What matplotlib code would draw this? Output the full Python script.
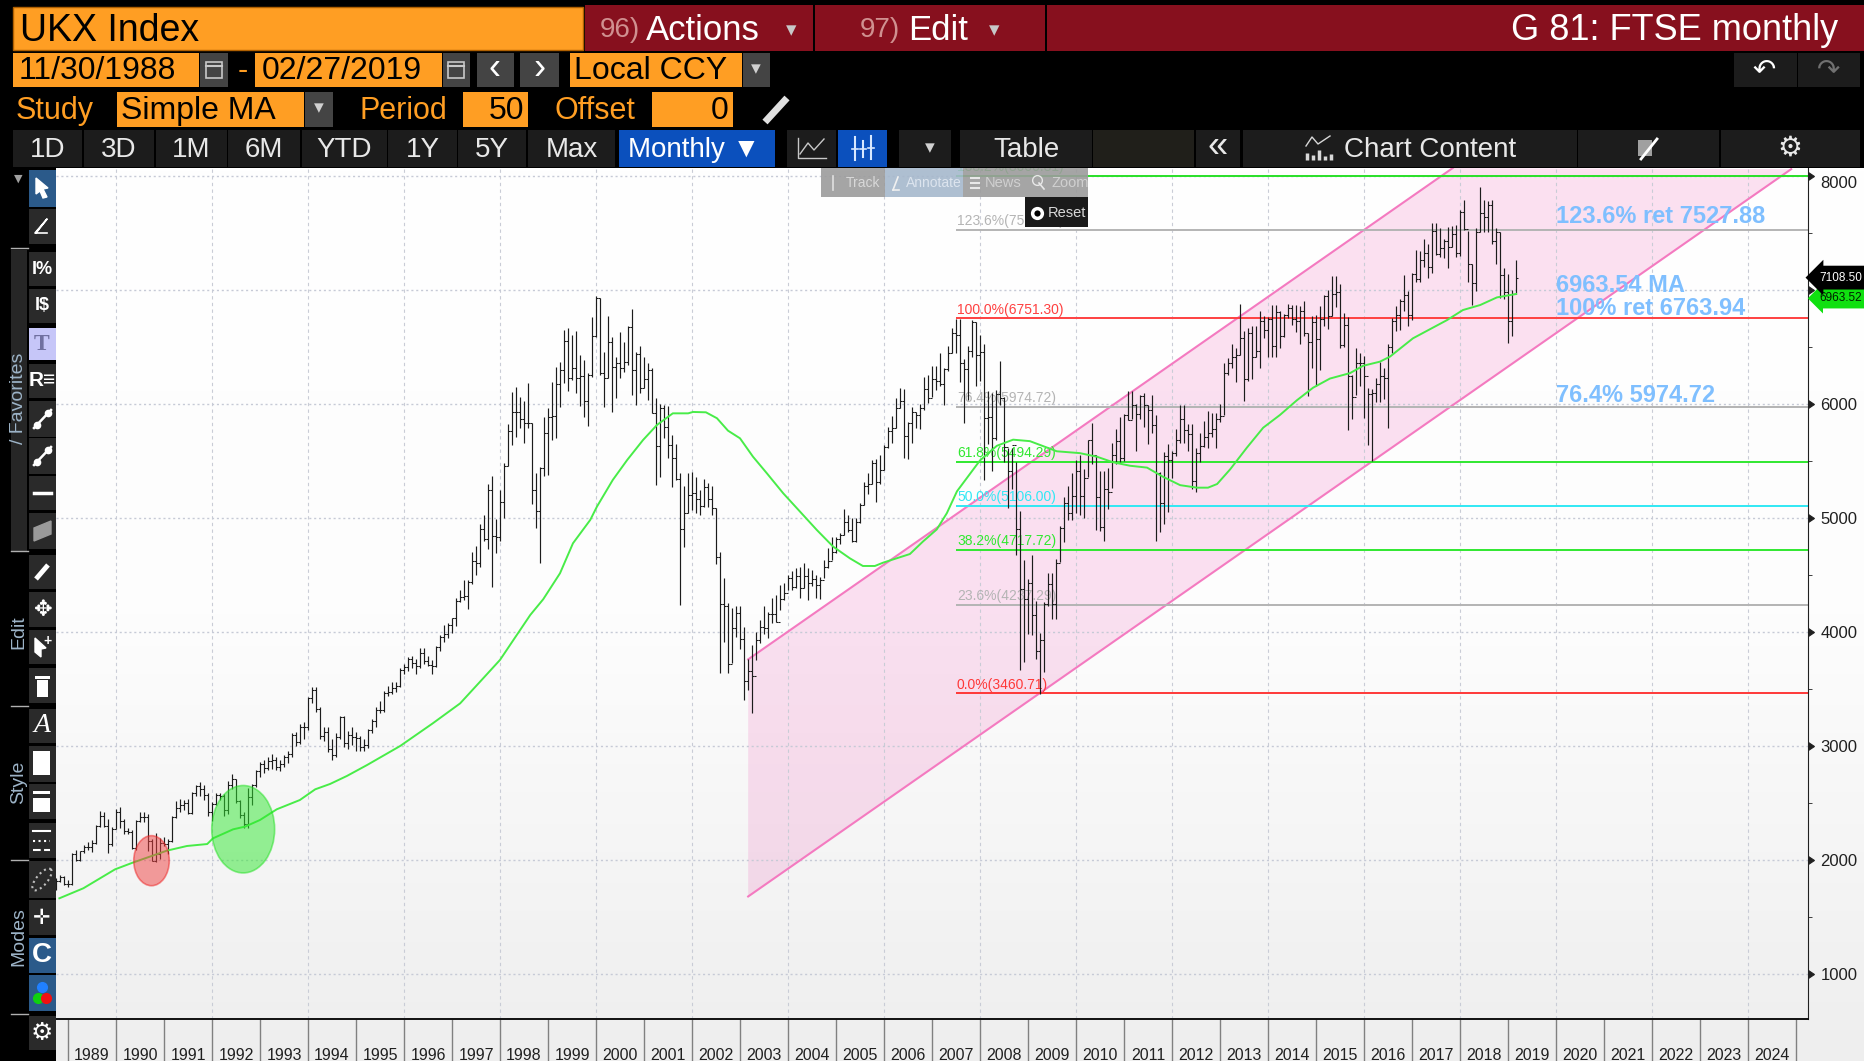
import numpy as np
import matplotlib
matplotlib.use('Agg')
import matplotlib.pyplot as plt
from matplotlib.colors import LinearSegmentedColormap
from matplotlib.markers import CARETRIGHTBASE
from matplotlib.patches import Rectangle, Ellipse, Polygon

plt.rcParams['font.family'] = ['Liberation Sans', 'DejaVu Sans']

# monthly bars, first bar Sep 1988, last bar Feb 2019
first_open = 1790
closes = [
    1820, 1853, 1793, 1793,
    2052, 2002, 2075, 2118, 2114, 2151, 2297, 2388, 2300, 2142, 2276, 2422,
    2338, 2255, 2247, 2103, 2345, 2375, 2375, 2163, 1990, 2050, 2149, 2143,
    2170, 2380, 2457, 2486, 2499, 2414, 2588, 2645, 2622, 2566, 2420, 2493,
    2571, 2562, 2440, 2654, 2708, 2521, 2399, 2312, 2553, 2658, 2778, 2846,
    2807, 2868, 2878, 2813, 2840, 2900, 2926, 3100, 3038, 3171, 3166, 3418,
    3491, 3328, 3086, 3126, 2971, 2919, 3082, 3251, 3027, 3097, 3081, 3066,
    2991, 3009, 3137, 3216, 3319, 3315, 3463, 3477, 3508, 3529, 3664, 3689,
    3760, 3728, 3699, 3818, 3748, 3711, 3703, 3867, 3953, 3980, 4058, 4119,
    4275, 4309, 4313, 4436, 4621, 4604, 4907, 4817, 5244, 4842, 4831, 5136,
    5458, 5767, 5932, 5928, 5870, 5833, 5837, 5249, 5064, 5438, 5743, 5883,
    5896, 6175, 6295, 6552, 6226, 6319, 6231, 6246, 6030, 6255, 6598, 6930,
    6269, 6232, 6540, 6327, 6359, 6313, 6365, 6672, 6294, 6438, 6142, 6222,
    6297, 5918, 5634, 5967, 5796, 5642, 5529, 5345, 4903, 5040, 5204, 5217,
    5165, 5101, 5272, 5166, 5086, 4656, 4246, 4227, 3722, 4039, 4169, 3940,
    3567, 3656, 3613, 3926, 4048, 4031, 4157, 4161, 4091, 4288, 4343, 4477,
    4391, 4492, 4386, 4489, 4431, 4464, 4413, 4459, 4571, 4624, 4703, 4814,
    4852, 4968, 4894, 4801, 4964, 5113, 5282, 5297, 5478, 5317, 5423, 5619,
    5760, 5792, 5965, 6023, 5723, 5833, 5928, 5906, 5961, 6129, 6049, 6221,
    6203, 6172, 6308, 6449, 6621, 6607, 6360, 6303, 6467, 6721, 6432, 6457,
    5880, 5884, 5702, 6087, 6053, 5625, 5412, 5636, 4902, 4377, 4288, 4434,
    4149, 3830, 3926, 4244, 4418, 4249, 4608, 4908, 5134, 5045, 5191, 5413,
    5189, 5355, 5680, 5553, 5188, 4917, 5258, 5225, 5549, 5675, 5528, 5900,
    5863, 5994, 5909, 6070, 5990, 5946, 5815, 5395, 5128, 5544, 5505, 5572,
    5682, 5872, 5768, 5738, 5321, 5571, 5635, 5711, 5742, 5783, 5867, 5898,
    6276, 6361, 6412, 6430, 6583, 6215, 6621, 6413, 6462, 6731, 6651, 6749,
    6510, 6810, 6598, 6780, 6844, 6744, 6730, 6820, 6622, 6546, 6723, 6566,
    6749, 6946, 6773, 6961, 6984, 6521, 6696, 6247, 6062, 6361, 6356, 6242,
    6084, 6097, 6175, 6242, 6231, 6504, 6724, 6781, 6899, 6954, 6784, 7143,
    7099, 7263, 7323, 7204, 7520, 7313, 7372, 7431, 7373, 7493, 7327, 7688,
    7534, 7232, 7057, 7509, 7678, 7637, 7749, 7432, 7510, 7128, 6980, 6728,
    6969, 7108,
]
highs = [
    1839, 1869, 1860, 1825,
    2060, 2085, 2080, 2135, 2155, 2175, 2310, 2430, 2425, 2360, 2290, 2450,
    2465, 2360, 2285, 2265, 2355, 2420, 2425, 2400, 2180, 2240, 2190, 2200,
    2180, 2390, 2515, 2535, 2530, 2535, 2600, 2660, 2680, 2660, 2590, 2510,
    2590, 2590, 2580, 2690, 2750, 2710, 2530, 2420, 2630, 2670, 2790, 2860,
    2880, 2900, 2930, 2900, 2880, 2925, 2960, 3110, 3120, 3190, 3210, 3430,
    3520, 3520, 3340, 3170, 3170, 3060, 3110, 3260, 3260, 3130, 3170, 3120,
    3090, 3060, 3145, 3235, 3340, 3395, 3480, 3530, 3560, 3565, 3680, 3715,
    3780, 3790, 3760, 3860, 3860, 3790, 3750, 3880, 3970, 4060, 4080, 4120,
    4300, 4370, 4460, 4460, 4700, 4750, 4950, 5030, 5300, 5368, 4988, 5246,
    5480, 5825, 6108, 6146, 6064, 6029, 6180, 5836, 5398, 5450, 5883, 5962,
    6196, 6322, 6372, 6650, 6664, 6605, 6644, 6430, 6386, 6270, 6760, 6950,
    6930, 6460, 6770, 6585, 6415, 6635, 6547, 6680, 6830, 6460, 6509, 6415,
    6357, 6313, 6050, 5999, 5991, 5983, 5728, 5650, 5398, 5281, 5398, 5407,
    5363, 5246, 5340, 5310, 5281, 5091, 4705, 4477, 4252, 4208, 4228, 4228,
    4047, 3760, 3886, 4003, 4105, 4228, 4179, 4296, 4325, 4412, 4427, 4500,
    4535, 4559, 4573, 4608, 4560, 4540, 4500, 4485, 4630, 4734, 4830, 4830,
    4865, 5076, 5026, 4997, 4997, 5129, 5319, 5392, 5509, 5515, 5553, 5640,
    5801, 5895, 6050, 6138, 6129, 5845, 5977, 5933, 5999, 6240, 6255, 6334,
    6334, 6446, 6319, 6510, 6670, 6743, 6743, 6398, 6510, 6733, 6717, 6606,
    6526, 6112, 6096, 6127, 6377, 6063, 5617, 5617, 5490, 5059, 4628, 4468,
    4676, 4276, 3990, 4262, 4516, 4516, 4644, 4931, 5186, 5281, 5393, 5505,
    5553, 5430, 5681, 5834, 5553, 5410, 5410, 5440, 5660, 5777, 5888, 5910,
    6110, 6110, 6000, 6080, 6100, 5990, 6075, 5905, 5400, 5580, 5650, 5590,
    5780, 5990, 5990, 5825, 5825, 5617, 5745, 5850, 5936, 5920, 5920, 6000,
    6357, 6400, 6526, 6494, 6875, 6640, 6670, 6685, 6685, 6813, 6770, 6760,
    6865, 6870, 6820, 6790, 6880, 6870, 6865, 6860, 6905, 6625, 6770, 6780,
    6860, 6960, 7000, 7120, 7122, 7050, 6800, 6760, 6250, 6490, 6450, 6420,
    6140, 6130, 6230, 6370, 6320, 6530, 6750, 6860, 6920, 7130, 6990, 7150,
    7355, 7340, 7450, 7403, 7584, 7584, 7540, 7450, 7555, 7560, 7570, 7700,
    7790, 7520, 7228, 7540, 7903, 7790, 7780, 7790, 7540, 7510, 7190, 7140,
    7000, 7263,
]
lows = [
    1737, 1810, 1780, 1760,
    1782, 1990, 1990, 2065, 2085, 2070, 2140, 2290, 2290, 2060, 2120, 2270,
    2280, 2230, 2225, 2100, 2090, 2330, 2330, 2080, 1990, 1980, 2010, 2120,
    2050, 2160, 2370, 2420, 2440, 2400, 2400, 2560, 2560, 2530, 2390, 2340,
    2480, 2530, 2385, 2400, 2620, 2500, 2370, 2281, 2280, 2480, 2640, 2730,
    2760, 2790, 2800, 2790, 2780, 2820, 2850, 2900, 3000, 3020, 3060, 3140,
    3380, 3300, 3060, 3040, 2950, 2876, 2900, 3060, 2990, 2970, 3010, 2960,
    2955, 2960, 2980, 3110, 3170, 3290, 3300, 3440, 3455, 3470, 3520, 3630,
    3660, 3680, 3630, 3680, 3720, 3700, 3630, 3690, 3830, 3910, 3950, 3990,
    4050, 4260, 4280, 4200, 4420, 4500, 4570, 4800, 4730, 4395, 4690, 4800,
    4997, 5456, 5640, 5714, 5787, 5655, 5787, 5123, 4910, 4608, 5369, 5377,
    5684, 5699, 5977, 6180, 6117, 6211, 6100, 5983, 5883, 5807, 6240, 6590,
    6255, 5977, 6225, 5927, 6050, 6225, 6284, 6340, 6080, 5990, 6094, 6138,
    6035, 5918, 5290, 5363, 5700, 5524, 5275, 5330, 4237, 4749, 5041, 5070,
    5040, 5027, 5100, 5100, 5027, 4600, 3638, 3915, 3640, 3725, 3960, 3850,
    3404, 3490, 3287, 3755, 3900, 3980, 3950, 4076, 4090, 4190, 4280, 4370,
    4370, 4382, 4295, 4382, 4280, 4400, 4295, 4287, 4470, 4560, 4630, 4690,
    4775, 4850, 4880, 4790, 4790, 4960, 5110, 5210, 5300, 5143, 5300, 5420,
    5610, 5655, 5787, 5962, 5524, 5515, 5661, 5787, 5778, 5950, 6005, 6065,
    6120, 6160, 5993, 6287, 6446, 6446, 6190, 5834, 6032, 6415, 6160, 6200,
    5336, 5650, 5410, 5680, 5990, 5490, 5090, 5250, 4676, 3671, 3735, 3980,
    3974, 3767, 3460, 3650, 4229, 4110, 4110, 4610, 4788, 4980, 4980, 5040,
    5027, 5000, 5362, 5473, 4899, 4890, 4794, 5075, 5266, 5473, 5490, 5500,
    5857, 5870, 5585, 5866, 5800, 5650, 5745, 4794, 4880, 4944, 5050, 5350,
    5540, 5660, 5660, 5585, 5250, 5230, 5490, 5620, 5617, 5710, 5617, 5840,
    5900, 6250, 6320, 6190, 6430, 6029, 6200, 6220, 6410, 6320, 6575, 6415,
    6415, 6415, 6495, 6590, 6750, 6690, 6630, 6530, 6600, 6072, 6320, 6160,
    6300, 6680, 6660, 6770, 6850, 6490, 6500, 5768, 5870, 6080, 6160, 5880,
    5640, 5500, 6020, 6020, 6040, 5788, 6450, 6640, 6650, 6820, 6680, 6740,
    7070, 7070, 7200, 7102, 7145, 7306, 7290, 7277, 7190, 7374, 7290, 7300,
    7526, 7073, 6870, 6990, 7510, 7510, 7510, 7400, 7230, 6930, 6918, 6536,
    6596, 6965,
]

# 50 month moving average
ma_years = [1988.82, 1989.32, 1989.98, 1990.35, 1991.06, 1991.48, 1991.9, 1992.02, 1992.44, 1992.69,
            1993.0, 1993.35, 1993.83, 1994.15, 1994.46, 1994.81, 1995.23, 1995.92, 1996.6, 1997.17,
            1997.65, 1998.0, 1998.35, 1998.63, 1998.9, 1999.25, 1999.52, 1999.88, 2000.02, 2000.35,
            2000.65, 2000.98, 2001.27, 2001.6, 2001.92, 2002.02, 2002.29, 2002.52, 2002.75, 2003.0,
            2003.27, 2003.56, 2003.9, 2004.25, 2004.6, 2004.94, 2005.29, 2005.56, 2005.81, 2005.98,
            2006.54, 2006.81, 2007.1, 2007.31, 2007.52, 2008.0, 2008.35, 2008.69, 2009.04, 2009.4,
            2009.6, 2010.08, 2010.44, 2010.77, 2011.13, 2011.48, 2011.81, 2012.17, 2012.52, 2012.75,
            2012.94, 2013.21, 2013.56, 2013.9, 2014.25, 2014.6, 2014.94, 2015.29, 2015.71, 2015.98,
            2016.33, 2016.54, 2017.02, 2017.73, 2018.06, 2018.42, 2018.77, 2019.17]
ma_values = [1664, 1752, 1918, 1977, 2082, 2123, 2140, 2190, 2269, 2293,
             2351, 2445, 2526, 2620, 2667, 2737, 2833, 3000, 3199, 3374,
             3594, 3755, 3974, 4149, 4287, 4515, 4778, 4983, 5100, 5334,
             5509, 5684, 5816, 5918, 5918, 5930, 5927, 5875, 5766, 5699,
             5538, 5392, 5217, 5056, 4895, 4749, 4646, 4579, 4579, 4608,
             4684, 4793, 4900, 5043, 5234, 5505, 5633, 5687, 5674, 5617,
             5585, 5569, 5537, 5489, 5458, 5442, 5362, 5288, 5266, 5266,
             5298, 5426, 5617, 5792, 5904, 6032, 6143, 6223, 6271, 6335,
             6371, 6415, 6576, 6736, 6824, 6868, 6935, 6965]

# fibonacci retracement
fib_levels = [8000.81, 7527.88, 6751.30, 5974.72, 5494.29, 5106.00, 4717.72, 4237.29, 3460.71]
fib_labels = ['138.2%(8000.81)', '123.6%(7527.88)', '100.0%(6751.30)', '76.4%(5974.72)', '61.8%(5494.29)',
              '50.0%(5106.00)', '38.2%(4717.72)', '23.6%(4237.29)', '0.0%(3460.71)']
fib_colors = ['#28e028', '#b4b4b4', '#ff4040', '#b4b4b4', '#30e830', '#30e8f4', '#30e830', '#b4b4b4', '#ff3838']
fib_start = 2007.5

# trend channel
channel_years = [2003.17, 2017.85, 2024.9, 2003.17]
channel_values = [3760, 8070, 8060, 1680]

year_labels = list(range(1989, 2025))
grid_years = list(range(1990, 2025, 2))
note_texts = ['123.6% ret 7527.88', '6963.54 MA', '100% ret 6763.94', '76.4% 5974.72']
note_values = [7584, 6979, 6780, 6020]
last_price = 7108.50
last_ma = 6963.52

PW, PH = 1864, 1061
fig = plt.figure(figsize=(PW / 100, PH / 100), dpi=100, facecolor='black')


def pixel_axes(zorder):
    a = fig.add_axes([0, 0, 1, 1], zorder=zorder)
    a.set_xlim(0, PW)
    a.set_ylim(PH, 0)
    a.axis('off')
    a.patch.set_alpha(0)
    return a


def box(a, x0, y0, x1, y1, color, **kw):
    a.add_patch(Rectangle((x0, y0), x1 - x0, y1 - y0, facecolor=color, edgecolor=kw.pop('edge', 'none'), **kw))


# background gradient behind the plot
bg = pixel_axes(0)
fade = LinearSegmentedColormap.from_list('fade', ['#ffffff', '#fdfdfd', '#eeeeee'])
bg.imshow(np.linspace(0, 1, 256).reshape(-1, 1), cmap=fade, aspect='auto', extent=(56, PW, PH, 168))
bg.set_xlim(0, PW)
bg.set_ylim(PH, 0)

# main chart
ax = fig.add_axes([56 / PW, (PH - 1019) / PH, (1808 - 56) / PW, (1019 - 168) / PH], zorder=1)
ax.patch.set_alpha(0)
ax.set_xlim(1988.75, 2025.25)
ax.set_ylim(605.3, 8070)

ax.add_patch(Polygon(np.column_stack([channel_years, channel_values]), closed=True,
                     facecolor='#ee50b0', alpha=0.17, edgecolor='none', zorder=1))
ax.plot(channel_years[:2], channel_values[:2], color='#f47ac0', lw=1.5, zorder=2)
ax.plot(channel_years[2:], channel_values[2:], color='#f47ac0', lw=1.5, zorder=2)

ax.grid(axis='y', which='major', color='#c6cad6', ls=(0, (1.5, 2)), lw=1)
for yr in grid_years:
    ax.axvline(yr, color='#c9ccd6', ls=(0, (3, 3)), lw=0.8, zorder=1.5)

ax.hlines(fib_levels, fib_start, 2025.25, colors=fib_colors, lw=1.4, zorder=2.5)
for level, label_text, color in zip(fib_levels, fib_labels, fib_colors):
    ax.text(fib_start + 0.02, level + 15, label_text, color=color, fontsize=10, va='bottom', ha='left',
            zorder=2.5, clip_on=True)

# bars, every bar opens where the month before closed
opens = [first_open] + closes[:-1]
bar_t = 1988.75 + np.arange(len(closes)) / 12
ax.vlines(bar_t, lows, highs, color='#1c1c1c', lw=0.85, zorder=3)
ax.hlines(opens, bar_t - 0.042, bar_t, color='#1c1c1c', lw=0.75, zorder=3)
ax.hlines(closes, bar_t, bar_t + 0.042, color='#1c1c1c', lw=0.75, zorder=3)

ax.plot(ma_years, ma_values, color='#48ec48', lw=1.4, zorder=4)

ax.add_patch(Ellipse((1990.74, 1994), 0.74, 439, facecolor='#f04040', alpha=0.5, edgecolor='#ee2020', lw=1.2, zorder=5))
ax.add_patch(Ellipse((1992.65, 2270), 1.31, 767, facecolor='#30e830', alpha=0.5, edgecolor='#20e020', lw=1.2, zorder=5))

for txt, val in zip(note_texts, note_values):
    ax.text(2020.01, val, txt, color='#7fbfff', fontsize=17, fontweight='bold',
            va='baseline', ha='left', zorder=6)

# axes dressing
for side in ['left', 'top']:
    ax.spines[side].set_visible(False)
ax.spines['right'].set_color('#202020')
ax.spines['bottom'].set_color('#101010')
ax.spines['bottom'].set_linewidth(1.4)

ax.yaxis.tick_right()
ax.set_yticks(range(1000, 9000, 1000))
ax.set_yticks(range(1500, 8000, 1000), minor=True)
ax.tick_params(axis='y', which='major', length=6, pad=3, labelsize=12, colors='#202020')
ax.tick_params(axis='y', which='minor', length=3, color='#202020')
for tick in ax.yaxis.get_major_ticks():
    tick.tick2line.set_marker(CARETRIGHTBASE)
    tick.tick2line.set_markersize(6)
ax.yaxis.get_major_ticks()[-1].label2.set_va('top')

ax.set_xticks(range(1989, 2026))
ax.set_xticklabels([])
ax.set_xticks([y + 0.5 for y in year_labels], minor=True)
ax.set_xticklabels([str(y) for y in year_labels], minor=True)
ax.tick_params(axis='x', which='major', length=30, color='#808080', width=1)
ax.tick_params(axis='x', which='minor', length=0, pad=21, labelsize=11.5, labelcolor='#202020')

# price tags sit on top of the 7000 label, as in the terminal
ytrans = ax.get_yaxis_transform()
ax.annotate(f'{last_ma:.2f}', xy=(1, last_ma), xycoords=ytrans, xytext=(8, -3), textcoords='offset points',
            va='center', ha='left', fontsize=8.5, color='#002000', annotation_clip=False, zorder=7,
            bbox=dict(boxstyle='larrow,pad=0.35', fc='#10e010', ec='none'))
ax.annotate(f'{last_price:.2f}', xy=(1, last_price), xycoords=ytrans, xytext=(8, 0), textcoords='offset points',
            va='center', ha='left', fontsize=8.5, color='white', annotation_clip=False, zorder=8,
            bbox=dict(boxstyle='larrow,pad=0.5', fc='black', ec='none'))

# terminal chrome on top
top = pixel_axes(2)
ORANGE = '#ff9e23'
RED = '#87101e'
DARK = '#1c1c1c'
GREY = '#444444'


def label(x, y, s, color='white', size=20, ha='left', **kw):
    top.text(x, y, s, color=color, fontsize=size, ha=ha, va='center', **kw)


box(top, 0, 0, PW, 168, 'black')
box(top, 0, 168, 56, PH, 'black')
box(top, 13, 7, 583, 50, ORANGE, edge='#b06000')
label(20, 31, 'UKX Index', 'black', 27)
box(top, 585, 5, 813, 51, RED)
label(600, 30, '96)', '#d09090', 20)
label(646, 30, 'Actions', 'white', 25)
label(791, 31, '▾', '#c8c8c8', 15, ha='center')
box(top, 815, 5, 1045, 51, RED)
label(860, 30, '97)', '#d09090', 20)
label(908, 30, 'Edit', 'white', 25)
label(994, 31, '▾', '#c8c8c8', 15, ha='center')
box(top, 1047, 5, 1864, 51, RED)
label(1838, 30, 'G 81: FTSE monthly', 'white', 26, ha='right')

box(top, 13, 53, 199, 87, ORANGE)
label(19, 71, '11/30/1988', 'black', 23)
box(top, 200, 53, 228, 87, GREY)
label(243, 71, '-', ORANGE, 22, ha='center')
box(top, 255, 53, 442, 87, ORANGE)
label(262, 71, '02/27/2019', 'black', 23)
box(top, 443, 53, 470, 87, GREY)
for cx in (214, 456):
    box(top, cx - 8, 62, cx + 8, 78, GREY, edge='#c8c8c8', lw=1.2)
    top.plot([cx - 8, cx + 8], [66, 66], color='#c8c8c8', lw=1.5)
box(top, 477, 53, 514, 87, GREY)
label(495, 70, '‹', 'white', 26, ha='center')
box(top, 520, 53, 559, 87, GREY)
label(539, 70, '›', 'white', 26, ha='center')
box(top, 570, 53, 742, 87, ORANGE)
label(574, 71, 'Local CCY', 'black', 23)
box(top, 743, 53, 770, 87, GREY)
label(756, 70, '▾', '#d0d0d0', 14, ha='center')
box(top, 1734, 53, 1797, 87, DARK)
box(top, 1798, 53, 1860, 87, DARK)
label(1764, 70, '↶', 'white', 20, ha='center', family='DejaVu Sans')
label(1829, 70, '↷', '#707070', 20, ha='center', family='DejaVu Sans')

label(16, 111, 'Study', ORANGE, 22)
box(top, 117, 92, 304, 127, ORANGE)
label(121, 111, 'Simple MA', 'black', 23)
box(top, 305, 92, 333, 127, GREY)
label(319, 109, '▾', '#d0d0d0', 14, ha='center')
label(360, 111, 'Period', ORANGE, 22)
box(top, 463, 92, 528, 127, ORANGE)
label(524, 111, '50', 'black', 23, ha='right')
label(555, 111, 'Offset', ORANGE, 22)
box(top, 652, 92, 733, 127, ORANGE)
label(729, 111, '0', 'black', 23, ha='right')
top.plot([765, 787], [122, 98], color='#e0e0e0', lw=5, solid_capstyle='butt')

row4 = [(13, 82, '1D'), (84, 154, '3D'), (156, 227, '1M'), (228, 300, '6M'), (302, 387, 'YTD'),
        (388, 457, '1Y'), (458, 526, '5Y'), (528, 615, 'Max')]
for x0, x1, s in row4:
    box(top, x0, 130, x1, 167, DARK)
    label((x0 + x1) / 2, 150, s, '#e8e8e8', 20, ha='center')
box(top, 619, 130, 775, 167, '#0b50bd')
label(628, 150, 'Monthly ▼', 'white', 20)
box(top, 787, 130, 836, 167, DARK)
top.plot([798, 798, 826], [138, 158, 158], color='#c8c8c8', lw=1)
top.plot([800, 808, 814, 824], [154, 143, 150, 139], color='#c8c8c8', lw=1)
box(top, 838, 130, 887, 167, '#0b50bd')
for cx, y0, y1 in ((855, 137, 160), (863, 141, 157), (871, 136, 159)):
    top.plot([cx, cx], [y0, y1], color='#d8e8ff', lw=1.5)
    top.plot([cx - 3, cx + 3], [(y0 + y1) / 2] * 2, color='#d8e8ff', lw=1.2)
box(top, 899, 130, 951, 167, DARK)
label(930, 149, '▾', '#d0d0d0', 14, ha='center')
box(top, 960, 130, 1092, 167, DARK)
label(1026, 150, 'Table', '#e8e8e8', 20, ha='center')
box(top, 1093, 130, 1194, 167, '#201f1a')
box(top, 1196, 130, 1240, 167, DARK)
label(1218, 148, '«', '#e8e8e8', 26, ha='center')
box(top, 1243, 130, 1577, 167, DARK)
label(1344, 150, 'Chart Content', '#e8e8e8', 20)
for bx, bh in ((1307, 7), (1313, 5), (1319, 10), (1325, 4), (1331, 6)):
    top.plot([bx, bx], [160, 160 - bh], color='#d8d8d8', lw=2.5, solid_capstyle='butt')
top.plot([1306, 1312, 1318, 1330], [146, 137, 144, 136], color='#d8d8d8', lw=1)
box(top, 1578, 130, 1719, 167, DARK)
box(top, 1638, 140, 1652, 156, '#a0a0a0')
top.plot([1641, 1657], [159, 139], color='white', lw=2)
box(top, 1721, 130, 1860, 167, DARK)
label(1790, 148, '⚙', '#e8e8e8', 20, ha='center', family='DejaVu Sans')

# floating chart toolbar, see through
box(top, 821, 168, 885, 197, '#9c9c9c', alpha=0.9)
box(top, 885, 168, 963, 197, '#a6b8cc', alpha=0.9)
box(top, 963, 168, 1022, 197, '#9c9c9c', alpha=0.9)
box(top, 1022, 168, 1088, 197, '#9c9c9c', alpha=0.9)
label(846, 183, 'Track', '#d8d8d8', 10)
label(906, 183, 'Annotate', '#dce4ee', 10)
label(985, 183, 'News', '#d0d0d0', 10.5)
label(1051, 183, 'Zoom', '#d0d0d0', 10.5)
top.plot([833, 833], [176, 190], color='#e0e0e0', lw=1.2)
top.plot([893, 898], [190, 177], color='#f0f0f0', lw=1.2)
top.plot([893, 899], [190, 190], color='#f0f0f0', lw=1.2)
for yy in (178, 183, 188):
    top.plot([971, 979], [yy, yy], color='#e8e8e8', lw=1.5)
top.plot(1037, 180, 'o', mfc='none', mec='#e8e8e8', ms=7)
top.plot([1039, 1044], [183, 189], color='#e8e8e8', lw=1.2)
box(top, 1025, 197, 1088, 227, '#1a1a1a')
top.plot(1037, 213, 'o', mfc='black', mec='white', mew=2.5, ms=7)
label(1048, 213, 'Reset', '#d8d8d8', 10.5)

# left tool strip
buttons = [(170, 207), (209, 244), (252, 286), (289, 323), (328, 360), (364, 398), (401, 437), (438, 474),
           (476, 510), (513, 549), (555, 589), (592, 627), (630, 664), (668, 703), (709, 743), (746, 782),
           (784, 819), (823, 858), (861, 898), (900, 935), (938, 973), (975, 1011), (1016, 1050)]
btn_colors = {0: '#2b5a8a', 4: '#c6c6f8', 20: '#2b5a8a', 21: '#2b5a8a'}
box(top, 11, 250, 27, 551, '#262626')
for i, (y0, y1) in enumerate(buttons):
    box(top, 29, y0, 56, y1, btn_colors.get(i, '#2a2a2a'))
for yy in (248, 551, 706, 860, 1014):
    top.plot([11, 28], [yy, yy], color='#b0b0b0', lw=1)
top.text(19, 398, '/ Favorites', color='#9db4c8', fontsize=14, rotation=90, ha='center', va='center')
top.text(19, 632, 'Edit', color='#9db4c8', fontsize=14, rotation=90, ha='center', va='center')
top.text(19, 782, 'Style', color='#9db4c8', fontsize=14, rotation=90, ha='center', va='center')
top.text(19, 937, 'Modes', color='#9db4c8', fontsize=14, rotation=90, ha='center', va='center')
label(18, 179, '▼', '#a0a0a0', 8, ha='center', family='DejaVu Sans')


def cy(i):
    return sum(buttons[i]) / 2


top.add_patch(Polygon([(36, 178), (48, 188), (43, 189), (47, 197), (43, 198), (40, 191), (36, 194)], color='white'))
top.plot([36, 47, 35, 47], [233, 219, 233, 233], color='white', lw=1.2)
label(42, cy(2), 'I%', 'white', 13, ha='center', fontweight='bold')
label(42, cy(3), 'I$', 'white', 13, ha='center', fontweight='bold')
label(42, cy(4), 'T', '#7070a0', 17, ha='center', family='Liberation Serif', fontweight='bold')
label(42, cy(5), 'R≡', 'white', 15, ha='center', fontweight='bold')
for i in (6, 7):
    top.plot([34, 51], [cy(i) + 9, cy(i) - 9], color='white', lw=1.8)
    top.plot([37, 48], [cy(i) + 6, cy(i) - 6], 'o', color='white', ms=4.5)
top.plot([34, 51], [cy(8), cy(8)], color='white', lw=2.5)
top.add_patch(Polygon([(34, cy(9) - 3), (51, cy(9) - 10), (51, cy(9) + 3), (34, cy(9) + 10)], color='#9a9a9a'))
top.plot([36, 48], [cy(10) + 7, cy(10) - 7], color='white', lw=3.5, solid_capstyle='butt')
label(42, cy(11), '✥', 'white', 16, ha='center', family='DejaVu Sans')
top.add_patch(Polygon([(35, cy(12) - 9), (46, cy(12) + 1), (41, cy(12) + 2), (41, cy(12) + 10), (35, cy(12) + 5)], color='white'))
label(48, cy(12) - 6, '+', 'white', 10, ha='center', fontweight='bold')
box(top, 37, cy(13) - 6, 48, cy(13) + 11, 'white')
box(top, 35, cy(13) - 10, 50, cy(13) - 7, 'white')
label(42, cy(14), 'A', 'white', 20, ha='center', family='Liberation Serif', style='italic')
box(top, 33, cy(15) - 13, 50, cy(15) + 11, 'white')
box(top, 33, cy(16) - 11, 50, cy(16) - 8, 'white')
box(top, 33, cy(16) - 4, 50, cy(16) + 10, 'white')
top.plot([33, 50], [cy(17) - 10, cy(17) - 10], color='white', lw=1.5)
top.plot([33, 50], [cy(17), cy(17)], color='white', lw=1.5, ls=':')
top.plot([33, 50], [cy(17) + 9, cy(17) + 9], color='white', lw=1.5, ls='--')
top.add_patch(Ellipse((42, cy(18)), 11, 27, angle=40, facecolor='none', edgecolor='#c0c0c0', ls=':', lw=1.5))
label(42, cy(19), '✛', 'white', 15, ha='center', family='DejaVu Sans')
label(42, cy(20), 'C', 'white', 20, ha='center', fontweight='bold')
top.plot([42], [cy(21) - 6], 'o', color='#2080ff', ms=7)
top.plot([38], [cy(21) + 5], 'o', color='#10d010', ms=7)
top.plot([46], [cy(21) + 5], 'o', color='#f01010', ms=7)
label(42, cy(22), '⚙', 'white', 18, ha='center', family='DejaVu Sans')

fig.savefig('out.png', dpi=100, facecolor='black')
